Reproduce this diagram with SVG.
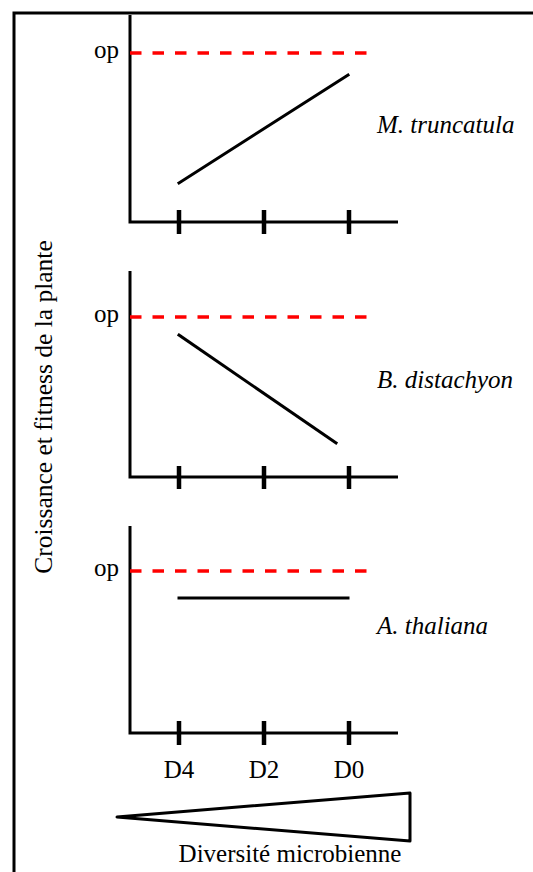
<svg xmlns="http://www.w3.org/2000/svg" width="533" height="872" viewBox="0 0 533 872">
<style>
.ax{stroke:#000;stroke-width:3;fill:none}
.tk{stroke:#000;stroke-width:4.5}
.op{stroke:#f00;stroke-width:3.5;stroke-dasharray:11.5 11}
.ln{stroke:#000;stroke-width:3;stroke-linecap:square}
.it{font-style:italic}
</style>
<rect x="14" y="13" width="560" height="900" fill="#fff" stroke="#000" stroke-width="3"/>
<g font-family="'Liberation Serif', serif" font-size="25" fill="#000">
<g id="ylabel"><text transform="translate(52,407) rotate(-90)" text-anchor="middle" font-size="25.5">Croissance et fitness de la plante</text></g>
<g id="chart-mt">
<path class="ax" d="M130,15 V222 H398"/>
<path class="tk" d="M179,210 V234 M264,210 V234 M349,210 V234"/>
<line class="op" x1="130" y1="53" x2="369" y2="53"/>
<text x="119" y="58" text-anchor="end">op</text>
<line class="ln" x1="179" y1="183" x2="348" y2="75"/>
<text class="it" x="377" y="133">M. truncatula</text>
</g>
<g id="chart-bd">
<path class="ax" d="M130,271 V477 H398"/>
<path class="tk" d="M179,466 V489 M264,466 V489 M349,466 V489"/>
<line class="op" x1="130" y1="317" x2="369" y2="317"/>
<text x="119" y="322" text-anchor="end">op</text>
<line class="ln" x1="179" y1="335" x2="336" y2="443"/>
<text class="it" x="377" y="388">B. distachyon</text>
</g>
<g id="chart-at">
<path class="ax" d="M130,526 V733 H398"/>
<path class="tk" d="M179,721 V745 M264,721 V745 M349,721 V745"/>
<line class="op" x1="130" y1="571" x2="369" y2="571"/>
<text x="119" y="576" text-anchor="end">op</text>
<line class="ln" x1="179" y1="598" x2="348" y2="598"/>
<text class="it" x="377" y="634">A. thaliana</text>
</g>
<g id="xlabels">
<text x="179" y="778" text-anchor="middle">D4</text>
<text x="264" y="778" text-anchor="middle">D2</text>
<text x="349" y="778" text-anchor="middle">D0</text>
</g>
<g id="diversity">
<polygon points="117,817 410,793 410,841" fill="none" stroke="#000" stroke-width="3" stroke-linejoin="round"/>
<text x="290" y="862" text-anchor="middle">Diversité microbienne</text>
</g>
</g>
</svg>
